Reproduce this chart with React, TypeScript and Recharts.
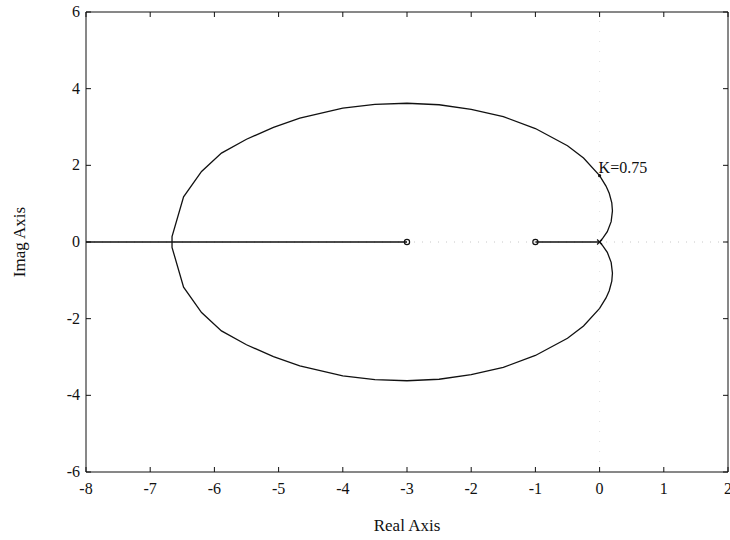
import React from "react";
import {
  ComposedChart,
  Line,
  Scatter,
  XAxis,
  YAxis,
  ReferenceLine,
} from "recharts";

const upperLoop = [
  { x: 0, y: 0 }, { x: 0.05, y: 0.1 }, { x: 0.12, y: 0.27 }, { x: 0.18, y: 0.53 },
  { x: 0.2, y: 0.81 }, { x: 0.19, y: 1.02 }, { x: 0.15, y: 1.27 }, { x: 0.1, y: 1.46 },
  { x: 0, y: 1.73 }, { x: -0.25, y: 2.19 }, { x: -0.5, y: 2.51 }, { x: -1, y: 2.96 },
  { x: -1.5, y: 3.27 }, { x: -2, y: 3.46 }, { x: -2.5, y: 3.58 }, { x: -3, y: 3.62 },
  { x: -3.5, y: 3.59 }, { x: -4, y: 3.49 }, { x: -4.67, y: 3.23 }, { x: -5.08, y: 2.99 },
  { x: -5.5, y: 2.68 }, { x: -5.89, y: 2.32 }, { x: -6.2, y: 1.84 }, { x: -6.48, y: 1.18 },
  { x: -6.66, y: 0.14 }, { x: -6.66, y: 0 },
];
const lowerLoop = [
  { x: 0, y: 0 }, { x: 0.05, y: -0.1 }, { x: 0.12, y: -0.27 }, { x: 0.18, y: -0.53 },
  { x: 0.2, y: -0.81 }, { x: 0.19, y: -1.02 }, { x: 0.15, y: -1.27 }, { x: 0.1, y: -1.46 },
  { x: 0, y: -1.73 }, { x: -0.25, y: -2.19 }, { x: -0.5, y: -2.51 }, { x: -1, y: -2.96 },
  { x: -1.5, y: -3.27 }, { x: -2, y: -3.46 }, { x: -2.5, y: -3.58 }, { x: -3, y: -3.62 },
  { x: -3.5, y: -3.59 }, { x: -4, y: -3.49 }, { x: -4.67, y: -3.23 }, { x: -5.08, y: -2.99 },
  { x: -5.5, y: -2.68 }, { x: -5.89, y: -2.32 }, { x: -6.2, y: -1.84 }, { x: -6.48, y: -1.18 },
  { x: -6.66, y: -0.14 }, { x: -6.66, y: 0 },
];
const realAxisLeft = [{ x: -8, y: 0 }, { x: -3, y: 0 }];
const realAxisRight = [{ x: -1, y: 0 }, { x: 0, y: 0 }];

const zeros = [{ x: -3, y: 0 }, { x: -1, y: 0 }];
const poles = [{ x: 0, y: 0 }];
const gainPoint = [{ x: 0, y: 1.73, label: "K=0.75" }];

const xTicks = [-8, -7, -6, -5, -4, -3, -2, -1, 0, 1, 2];
const yTicks = [-6, -4, -2, 0, 2, 4, 6];

const FONT = "'Liberation Serif', 'Times New Roman', serif";
const INK = "#111";

function BottomTick(props: any) {
  const { x, y, payload } = props;
  return (
    <g>
      <line x1={x} y1={y} x2={x} y2={y - 5} stroke={INK} />
      <text x={x} y={y + 22} textAnchor="middle" fontFamily={FONT} fontSize={16} fill={INK}>
        {payload.value}
      </text>
    </g>
  );
}

function TopTick(props: any) {
  const { x, y } = props;
  return <line x1={x} y1={y} x2={x} y2={y + 5} stroke={INK} />;
}

function LeftTick(props: any) {
  const { x, y, payload } = props;
  return (
    <g>
      <line x1={x} y1={y} x2={x + 5} y2={y} stroke={INK} />
      <text x={x - 6} y={y + 5} textAnchor="end" fontFamily={FONT} fontSize={16} fill={INK}>
        {payload.value}
      </text>
    </g>
  );
}

function RightTick(props: any) {
  const { x, y } = props;
  return <line x1={x} y1={y} x2={x - 5} y2={y} stroke={INK} />;
}

const zeroShape = (p: any) => (
  <circle cx={p.cx} cy={p.cy} r={2.6} fill="none" stroke={INK} strokeWidth={1.2} />
);
const poleShape = (p: any) => (
  <g stroke={INK} strokeWidth={1.2}>
    <line x1={p.cx - 2.5} y1={p.cy - 2.5} x2={p.cx + 2.5} y2={p.cy + 2.5} />
    <line x1={p.cx - 2.5} y1={p.cy + 2.5} x2={p.cx + 2.5} y2={p.cy - 2.5} />
  </g>
);
const gainShape = (p: any) => (
  <g>
    <circle cx={p.cx} cy={p.cy} r={1.6} fill={INK} />
    <text x={p.cx - 1} y={p.cy - 3} fontFamily={FONT} fontSize={16} fill={INK}>
      {p.payload.label}
    </text>
  </g>
);

export default function App() {
  return (
    <div style={{ position: "absolute", left: 0, top: 0, background: "#fff" }}>
      <ComposedChart
        width={730}
        height={540}
        margin={{ top: 11, right: 1, bottom: 0, left: 0 }}
      >
        <XAxis
          xAxisId="b"
          dataKey="x"
          type="number"
          domain={[-8, 2]}
          ticks={xTicks}
          allowDataOverflow
          height={68}
          tickSize={0}
          tickMargin={0}
          tickLine={false}
          axisLine={{ stroke: INK }}
          tick={<BottomTick />}
          interval={0}
        />
        <XAxis
          xAxisId="t"
          orientation="top"
          dataKey="x"
          type="number"
          domain={[-8, 2]}
          ticks={xTicks}
          allowDataOverflow
          height={1}
          tickSize={0}
          tickMargin={0}
          tickLine={false}
          axisLine={{ stroke: INK }}
          tick={<TopTick />}
          interval={0}
        />
        <YAxis
          yAxisId="l"
          type="number"
          domain={[-6, 6]}
          ticks={yTicks}
          allowDataOverflow
          width={86}
          tickSize={0}
          tickMargin={0}
          tickLine={false}
          axisLine={{ stroke: INK }}
          tick={<LeftTick />}
          interval={0}
        />
        <YAxis
          yAxisId="r"
          orientation="right"
          type="number"
          domain={[-6, 6]}
          ticks={yTicks}
          allowDataOverflow
          width={1}
          tickSize={0}
          tickMargin={0}
          tickLine={false}
          axisLine={{ stroke: INK }}
          tick={<RightTick />}
          interval={0}
        />
        <ReferenceLine xAxisId="b" yAxisId="l" x={0} stroke="#e2e2e2" strokeDasharray="1 9" />
        <ReferenceLine xAxisId="b" yAxisId="l" y={0} stroke="#c8c8c8" strokeDasharray="1 7" />
        <Line xAxisId="b" yAxisId="l" data={realAxisLeft} dataKey="y" type="linear" stroke={INK} strokeWidth={1.3} dot={false} isAnimationActive={false} />
        <Line xAxisId="b" yAxisId="l" data={realAxisRight} dataKey="y" type="linear" stroke={INK} strokeWidth={1.3} dot={false} isAnimationActive={false} />
        <Line xAxisId="b" yAxisId="l" data={upperLoop} dataKey="y" type="linear" stroke={INK} strokeWidth={1.3} dot={false} isAnimationActive={false} />
        <Line xAxisId="b" yAxisId="l" data={lowerLoop} dataKey="y" type="linear" stroke={INK} strokeWidth={1.3} dot={false} isAnimationActive={false} />
        <Scatter xAxisId="b" yAxisId="l" data={zeros} dataKey="y" shape={zeroShape} isAnimationActive={false} />
        <Scatter xAxisId="b" yAxisId="l" data={poles} dataKey="y" shape={poleShape} isAnimationActive={false} />
        <Scatter xAxisId="b" yAxisId="l" data={gainPoint} dataKey="y" shape={gainShape} isAnimationActive={false} />
      </ComposedChart>
      <div
        style={{
          position: "absolute",
          left: 0,
          top: 516,
          width: 814,
          textAlign: "center",
          fontFamily: FONT,
          fontSize: 17,
          color: INK,
        }}
      >
        Real Axis
      </div>
      <div
        style={{
          position: "absolute",
          left: 20,
          top: 242,
          transform: "translate(-50%, -50%) rotate(-90deg)",
          whiteSpace: "nowrap",
          fontFamily: FONT,
          fontSize: 17,
          color: INK,
        }}
      >
        Imag Axis
      </div>
    </div>
  );
}
